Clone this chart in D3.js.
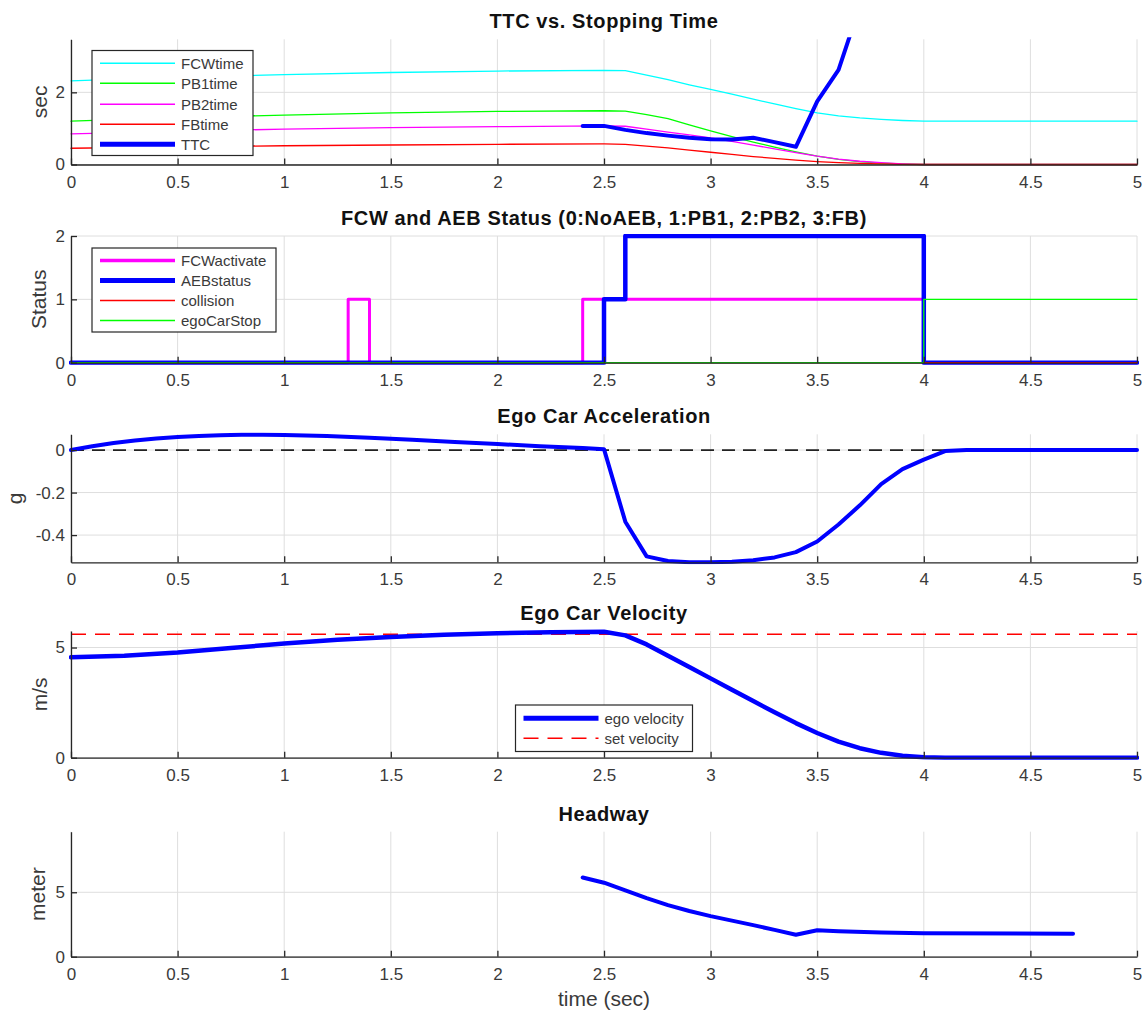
<!DOCTYPE html>
<html><head><meta charset="utf-8">
<script src="https://cdn.jsdelivr.net/npm/d3@7"></script>
<style>
body{margin:0;background:#fff}
svg{display:block}
text{font-family:"Liberation Sans",Arial,Helvetica,sans-serif}
</style>
</head><body>
<svg id="chart" width="1148" height="1017"></svg>
<script>
// ---------------- data ----------------
const xTicks = [0,0.5,1,1.5,2,2.5,3,3.5,4,4.5,5];

// Panel 1: TTC vs stopping time
const t1 = [0,0.5,1,1.5,2,2.5,2.6,2.7,2.8,2.9,3.0,3.1,3.2,3.3,3.4,3.5,3.6,3.7,3.8,3.9,4.0,5.0];
const fcwTime = [2.32,2.42,2.49,2.55,2.59,2.61,2.60,2.48,2.35,2.21,2.08,1.95,1.81,1.68,1.55,1.43,1.35,1.29,1.25,1.22,1.20,1.20];
const pb1Time = [1.20,1.30,1.37,1.43,1.47,1.49,1.48,1.38,1.27,1.10,0.93,0.77,0.62,0.48,0.35,0.23,0.14,0.08,0.04,0.015,0,0];
const pb2Time = [0.85,0.92,0.98,1.02,1.05,1.07,1.06,0.98,0.90,0.82,0.74,0.64,0.54,0.43,0.33,0.23,0.15,0.09,0.05,0.02,0,0];
const fbTime  = [0.45,0.49,0.52,0.54,0.56,0.57,0.56,0.51,0.46,0.40,0.34,0.28,0.22,0.17,0.12,0.08,0.05,0.03,0.015,0.005,0,0];
const ttcT = [2.4,2.5,2.6,2.7,2.8,2.9,3.0,3.1,3.2,3.3,3.4,3.5,3.6,3.7];
const ttc  = [1.07,1.07,0.96,0.87,0.80,0.74,0.70,0.69,0.74,0.62,0.49,1.75,2.62,4.4];
const legend1Labels = ["FCWtime","PB1time","PB2time","FBtime","TTC"];

// Panel 2: FCW and AEB status (step signals)
const fcwActT = [0,1.3,1.4,2.4,4.0,5.0];
const fcwAct  = [0,1,0,1,0,0];
const aebT = [0,2.5,2.6,4.0,5.0];
const aeb  = [0,1,2,0,0];
const collT = [0,5];
const coll  = [0,0];
const stopT = [0,4.0,5.0];
const stop  = [0,1,1];
const legend2Labels = ["FCWactivate","AEBstatus","collision","egoCarStop"];

// Panel 3: ego acceleration (g)
const accT = [0,0.1,0.2,0.3,0.4,0.5,0.6,0.7,0.8,0.9,1.0,1.2,1.4,1.6,1.8,2.0,2.2,2.4,2.5,2.6,2.7,2.8,2.9,3.0,3.1,3.2,3.3,3.4,3.5,3.6,3.7,3.8,3.9,4.0,4.1,4.2,5.0];
const acc  = [0,0.018,0.033,0.045,0.054,0.061,0.066,0.070,0.072,0.072,0.071,0.066,0.058,0.048,0.038,0.028,0.018,0.009,0.004,-0.337,-0.50,-0.522,-0.528,-0.528,-0.525,-0.518,-0.505,-0.48,-0.43,-0.35,-0.26,-0.16,-0.09,-0.045,-0.005,0,0];

// Panel 4: ego velocity (m/s)
const velT = [0,0.25,0.5,0.75,1.0,1.25,1.5,1.75,2.0,2.25,2.5,2.6,2.7,2.8,2.9,3.0,3.1,3.2,3.3,3.4,3.5,3.6,3.7,3.8,3.9,4.0,4.1,5.0];
const vel  = [4.56,4.63,4.77,4.98,5.18,5.35,5.48,5.58,5.65,5.69,5.72,5.55,5.14,4.63,4.12,3.60,3.08,2.57,2.06,1.57,1.12,0.73,0.43,0.22,0.09,0.02,0,0];
const setVelocity = 5.6;
const legend4Labels = ["ego velocity","set velocity"];

// Panel 5: headway (m)
const hwT = [2.4,2.5,2.6,2.7,2.8,2.9,3.0,3.1,3.2,3.3,3.4,3.5,3.6,3.8,4.0,4.7];
const hw  = [6.15,5.74,5.15,4.55,4.00,3.55,3.15,2.80,2.45,2.08,1.70,2.05,1.98,1.88,1.82,1.78];

const titles = ["TTC vs. Stopping Time","FCW and AEB Status (0:NoAEB, 1:PB1, 2:PB2, 3:FB)","Ego Car Acceleration","Ego Car Velocity","Headway"];
const yLabels = ["sec","Status","g","m/s","meter"];
const xLabel = "time (sec)";

// ---------------- drawing ----------------
const svg = d3.select("#chart");
const X0 = 71, X1 = 1137;
const x = d3.scaleLinear().domain([0,5]).range([X0,X1]);
const AX = "#262626", GRID = "#dedede", TXT = "#3a3a3a";

const layout = [
  {top:39.3, bottom:164.5, domain:[0,3.47], ticks:[0,2], ylx:40},
  {top:236, bottom:362.7, domain:[0,2], ticks:[0,1,2], ylx:39},
  {top:434.3, bottom:562.3, domain:[-0.528,0.074], ticks:[-0.4,-0.2,0], ylx:15},
  {top:631, bottom:757.7, domain:[0,5.75], ticks:[0,5], ylx:40},
  {top:831.7, bottom:956.7, domain:[0,9.7], ticks:[0,5], ylx:38}
];

function makePanel(i){
  const L = layout[i];
  const y = d3.scaleLinear().domain(L.domain).range([L.bottom, L.top]);
  const g = svg.append("g");
  g.append("g").selectAll("line").data(xTicks).join("line")
    .attr("x1", d=>x(d)).attr("x2", d=>x(d)).attr("y1", L.top).attr("y2", L.bottom)
    .attr("stroke", GRID).attr("stroke-width", 1);
  g.append("g").selectAll("line").data(L.ticks).join("line")
    .attr("x1", X0).attr("x2", X1).attr("y1", d=>y(d)).attr("y2", d=>y(d))
    .attr("stroke", GRID).attr("stroke-width", 1);
  const cid = "clip"+i;
  svg.append("clipPath").attr("id", cid).append("rect")
    .attr("x", X0-2).attr("y", L.top-2).attr("width", X1-X0+4).attr("height", L.bottom-L.top+4);
  const plot = g.append("g").attr("clip-path", `url(#${cid})`);
  const xa = g.append("g").attr("transform", `translate(0,${L.bottom})`)
    .call(d3.axisBottom(x).tickValues(xTicks).tickFormat(d=>String(d)).tickSizeInner(-6).tickSizeOuter(0).tickPadding(11));
  const ya = g.append("g").attr("transform", `translate(${X0},0)`)
    .call(d3.axisLeft(y).tickValues(L.ticks).tickFormat(d=>String(d)).tickSizeInner(-6).tickSizeOuter(0).tickPadding(6));
  [xa,ya].forEach(a=>{
    a.select(".domain").attr("stroke", AX).attr("stroke-width", 1.3);
    a.selectAll(".tick line").attr("stroke", AX).attr("stroke-width", 1.3);
    a.selectAll(".tick text").attr("fill", TXT).style("font-size","17px");
  });
  g.append("text").attr("x", (X0+X1)/2).attr("y", L.top-11).attr("text-anchor","middle")
    .style("font-size","20px").style("font-weight","bold").style("letter-spacing","0.6px")
    .attr("fill","#111").text(titles[i]);
  g.append("text").attr("transform", `translate(${L.ylx},${(L.top+L.bottom)/2}) rotate(-90)`)
    .attr("text-anchor","middle").attr("dy","0.35em").style("font-size","21px").attr("fill",TXT).text(yLabels[i]);
  return {g, plot, y};
}

function drawLine(P, ts, vs, color, width, opts={}){
  const line = d3.line().x((d,j)=>x(ts[j])).y(d=>P.y(d));
  if (opts.step) line.curve(d3.curveStepAfter);
  const p = P.plot.append("path").datum(vs).attr("d", line)
    .attr("fill","none").attr("stroke", color).attr("stroke-width", width)
    .attr("stroke-linejoin","round").attr("stroke-linecap", opts.dash ? "butt" : "round");
  if (opts.dash) p.attr("stroke-dasharray", opts.dash);
  return p;
}

function drawLegend(bx, by, w, h, rows, labels){
  const g = svg.append("g");
  g.append("rect").attr("x",bx).attr("y",by).attr("width",w).attr("height",h)
    .attr("fill","#fff").attr("stroke",AX).attr("stroke-width",1.2);
  rows.forEach((r,k)=>{
    const ly = by + r.dy;
    const ln = g.append("line").attr("x1", bx+8).attr("x2", bx+83).attr("y1", ly).attr("y2", ly)
      .attr("stroke", r.color).attr("stroke-width", r.width);
    if (r.dash) ln.attr("stroke-dasharray", r.dash);
    g.append("text").attr("x", bx+89).attr("y", ly).attr("dy","0.35em")
      .style("font-size","15px").attr("fill",TXT).text(labels[k]);
  });
}

// Panel 1
const P1 = makePanel(0);
drawLine(P1, t1, fcwTime, "#00ffff", 1.3);
drawLine(P1, t1, pb1Time, "#00ff00", 1.3);
drawLine(P1, t1, pb2Time, "#ff00ff", 1.3);
drawLine(P1, t1, fbTime, "#ff0000", 1.3);
drawLine(P1, ttcT, ttc, "#0000ff", 4);
drawLegend(92, 50.5, 161, 105, [
  {dy:12.8,color:"#00ffff",width:1.5},{dy:32.8,color:"#00ff00",width:1.5},
  {dy:53.8,color:"#ff00ff",width:1.5},{dy:73.8,color:"#ff0000",width:1.5},
  {dy:93.8,color:"#0000ff",width:5}], legend1Labels);

// Panel 2
const P2 = makePanel(1);
drawLine(P2, fcwActT, fcwAct, "#ff00ff", 3, {step:true});
drawLine(P2, aebT, aeb, "#0000ff", 4.5, {step:true});
drawLine(P2, collT, coll, "#ff0000", 1.3, {step:true});
drawLine(P2, stopT, stop, "#00ff00", 1.3, {step:true});
drawLegend(92, 248, 184, 84, [
  {dy:12.5,color:"#ff00ff",width:3.5},{dy:32.5,color:"#0000ff",width:5},
  {dy:52.5,color:"#ff0000",width:1.5},{dy:72.5,color:"#00ff00",width:1.5}], legend2Labels);

// Panel 3
const P3 = makePanel(2);
drawLine(P3, [0,5], [0,0], "#222", 1.8, {dash:"13,8"});
drawLine(P3, accT, acc, "#0000ff", 4);

// Panel 4
const P4 = makePanel(3);
drawLine(P4, [0,5], [setVelocity,setVelocity], "#ff0000", 1.6, {dash:"15,9"});
drawLine(P4, velT, vel, "#0000ff", 4.5);
drawLegend(515.5, 705, 177, 46.5, [
  {dy:13.3,color:"#0000ff",width:5},{dy:33.3,color:"#ff0000",width:1.6,dash:"15,9"}], legend4Labels);

// Panel 5
const P5 = makePanel(4);
drawLine(P5, hwT, hw, "#0000ff", 4);
svg.append("text").attr("x",(X0+X1)/2).attr("y",1006).attr("text-anchor","middle")
  .style("font-size","21px").attr("fill",TXT).text(xLabel);
</script>
</body></html>
